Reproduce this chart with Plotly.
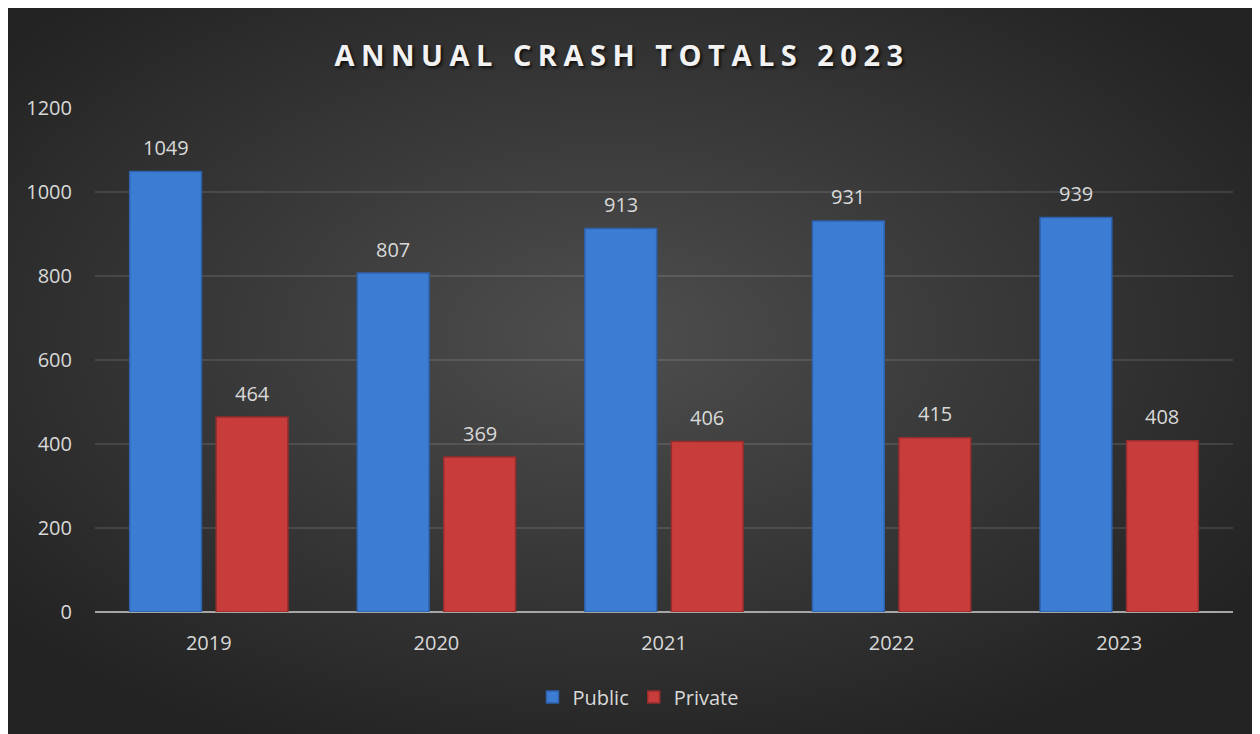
import base64
import plotly.graph_objects as go

years = ["2019", "2020", "2021", "2022", "2023"]
public = [1049, 807, 913, 931, 939]
private = [464, 369, 406, 415, 408]
y_ticks = [0, 200, 400, 600, 800, 1000, 1200]

# page body has an 8px margin, so the figure is placed at (8, 8)
W, H = 1252, 726
ML, MR, MT, MB = 87, 27, 100, 122
PW, PH = W - ML - MR, H - MT - MB
BARGAP = 0.24

svg = (
    '<svg xmlns="http://www.w3.org/2000/svg" width="1252" height="726" viewBox="0 0 1252 726" preserveAspectRatio="none">'
    '<defs><radialGradient id="g" cx="48%" cy="45%" r="62%">'
    '<stop offset="0%" stop-color="#4e4e4e"/><stop offset="100%" stop-color="#232323"/>'
    '</radialGradient></defs><rect width="1252" height="726" fill="url(#g)"/></svg>'
)
bg_src = "data:image/svg+xml;base64," + base64.b64encode(svg.encode()).decode()

fig = go.Figure()
fig.add_trace(go.Bar(name="Public", x=years, y=public,
                     marker=dict(color="#3c7dd3", line=dict(color="#2d62ad", width=1.5))))
fig.add_trace(go.Bar(name="Private", x=years, y=private,
                     marker=dict(color="#c83c3b", line=dict(color="#952d2d", width=1.5))))

cat_w = PW / len(years)
offset = cat_w * (1 - BARGAP) / 4
for series, sign in ((public, -1), (private, 1)):
    for i, v in enumerate(series):
        fig.add_annotation(x=i, y=v, text=str(v), showarrow=False,
                           xshift=sign * offset, yshift=24, yanchor="middle",
                           font=dict(family="Open Sans", size=20, color="#d9d9d9"))

fig.add_layout_image(dict(source=bg_src, xref="paper", yref="paper",
                          x=-ML / PW, y=(H - MB) / PH,
                          sizex=W / PW, sizey=H / PH,
                          xanchor="left", yanchor="top", sizing="stretch", layer="below"))

fig.update_layout(
    width=W, height=H,
    margin=dict(l=ML, r=MR, t=MT, b=MB),
    paper_bgcolor="#2a2a2a", plot_bgcolor="rgba(0,0,0,0)",
    barmode="group", bargap=BARGAP, bargroupgap=0.17,
    title=dict(text='<span style="letter-spacing:6.5px">ANNUAL CRASH TOTALS 2023</span>',
               x=614 / W, xanchor="center", y=1 - 48 / H, yanchor="middle",
               font=dict(family="Open Sans", size=29, weight=700, color="#f2f2f2",
                         shadow="2px 2px 3px rgba(0,0,0,0.7)")),
    font=dict(family="Open Sans", size=20, color="#d9d9d9"),
    legend=dict(orientation="h", x=(630 - ML) / PW, xanchor="center",
                y=(H - MB - 689) / PH, yanchor="middle",
                font=dict(family="Open Sans", size=20, color="#d9d9d9"),
                bgcolor="rgba(0,0,0,0)"),
    xaxis=dict(type="category", range=[-0.5, len(years) - 0.5], showgrid=False,
               showline=False, ticks="", ticklabelstandoff=17,
               tickfont=dict(size=20, color="#d9d9d9")),
    yaxis=dict(range=[0, 1200], tickvals=y_ticks, showgrid=True,
               gridcolor="rgba(255,255,255,0.11)", gridwidth=2,
               zeroline=True, zerolinecolor="#a6a6a6", zerolinewidth=2,
               showline=False, ticks="", ticklabelstandoff=22,
               tickfont=dict(size=20, color="#d9d9d9")),
    showlegend=True,
)

fig.write_html("out.html")
